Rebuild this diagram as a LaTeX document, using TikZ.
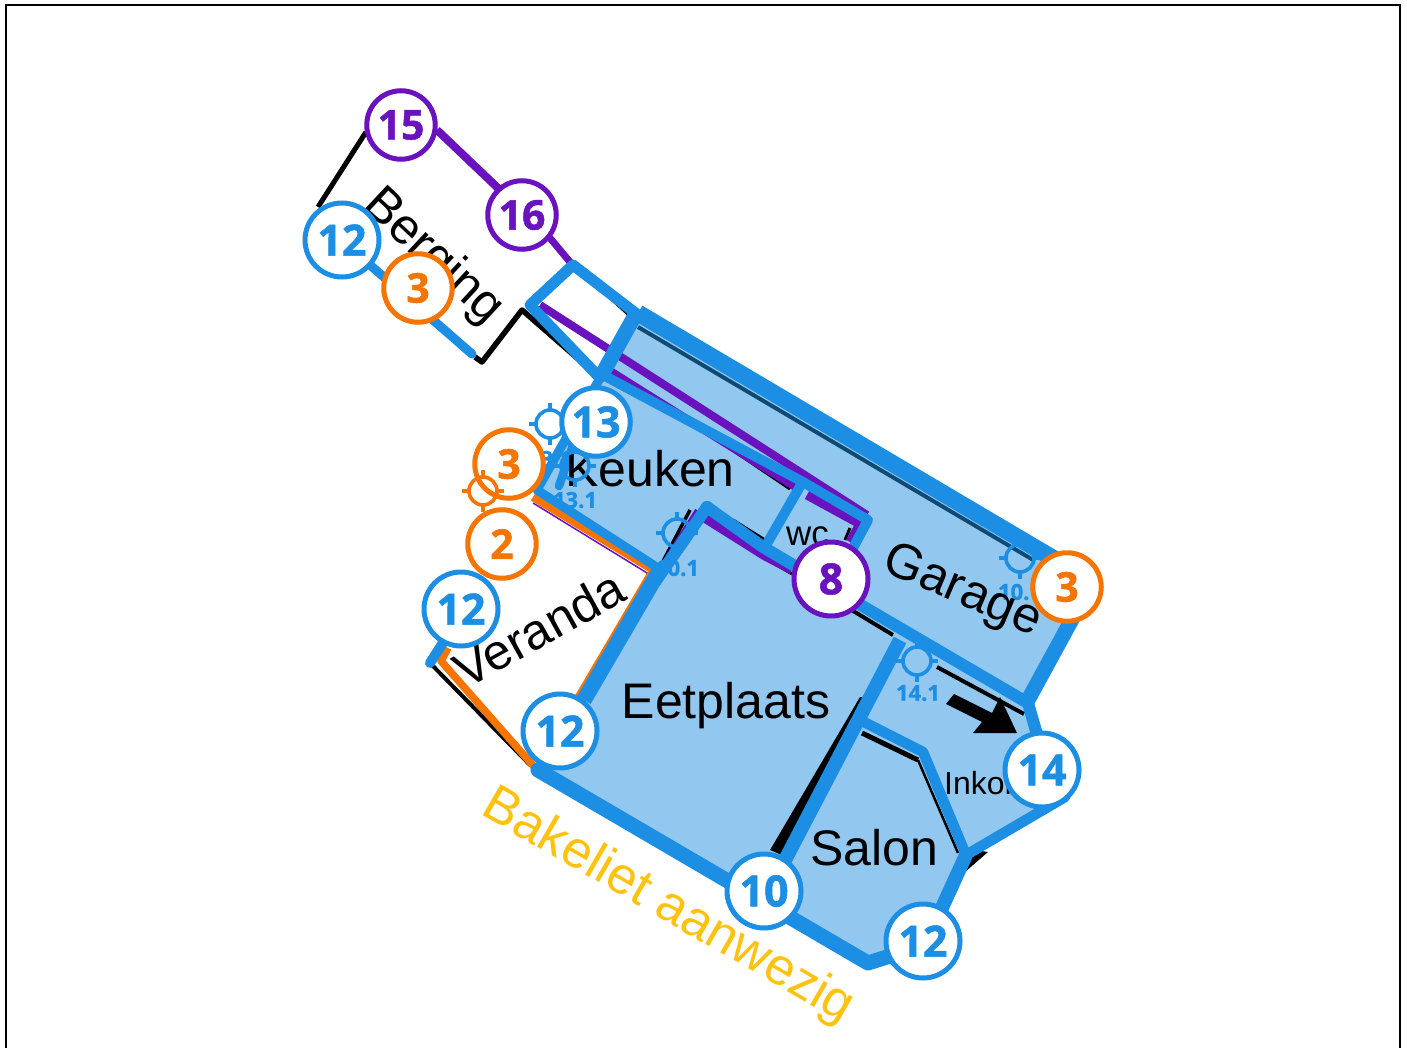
\documentclass[tikz,border=0pt]{standalone}
\usepackage{fontspec}
\setmainfont{Liberation Sans}
\newfontfamily\numfont{Open Sans}[UprightFont=* Bold,RawFeature={embolden=1.2}]
\definecolor{wblue}{HTML}{1C8EE3}
\definecolor{lblue}{HTML}{92C8F0}
\definecolor{wpurple}{HTML}{6A12BE}
\definecolor{worange}{HTML}{F57500}
\definecolor{wyellow}{HTML}{FFC20E}
\definecolor{dblue}{HTML}{0F4A75}
\tikzset{
  x=1pt,y=-1pt,
  bwall/.style={draw=wblue,line join=round,line cap=round},
  pwall/.style={draw=wpurple,line join=round},
  owall/.style={draw=worange,line join=round},
  kwall/.style={draw=black,line join=round},
  big/.style={circle,fill=white,line width=5pt,minimum size=68.5pt,inner sep=0pt,font=\numfont\fontsize{41}{41}\selectfont},
  bigger/.style={big,minimum size=74pt,font=\numfont\fontsize{43}{43}\selectfont},
  blueb/.style={bigger,draw=wblue,text=wblue},
  purpleb/.style={big,draw=wpurple,text=wpurple},
  orangeb/.style={big,draw=worange,text=worange},
  room/.style={font=\fontsize{50}{50}\selectfont,inner sep=0pt},
  smallroom/.style={font=\fontsize{32}{32}\selectfont,inner sep=0pt},
  ptlabel/.style={text=wblue,font=\numfont\fontsize{22}{22}\selectfont,inner sep=0pt},
}
\newcommand{\crossh}[3]{%
  \draw[#1,line width=3.6pt] (#2,#3) circle[radius=14];
  \foreach \a/\b in {-21/0,21/0,0/-21,0/21}{%
    \draw[#1,line width=3.6pt] (#2+0.6*\a,#3+0.6*\b) -- (#2+\a,#3+\b);}%
}
\begin{document}
\begin{tikzpicture}
\useasboundingbox (0,0) rectangle (1407,1048);
\fill[white] (0,0) rectangle (1407,1048);
\draw[black,line width=2.6pt] (6,1048) -- (6,5) -- (1400,5) -- (1400,1048);
% filled rooms
\fill[lblue] (638,315) -- (1088,582) -- (1028,703) -- (1035,745) -- (1067,800) -- (965,855) -- (925,945) -- (868,965) -- (540,770) -- (655,572) -- (537,492) -- (600,378) -- cycle;
% black walls
\draw[kwall,line width=5pt] (318,207) -- (366,132);
\draw[kwall,line width=5.5pt] (475,357) -- (482,362) -- (522,310) -- (600,378);
\draw[kwall,line width=4.5pt] (575,265) -- (630,315);
\draw[dblue,line width=4pt] (638,327) -- (1035,561);
\draw[kwall,line width=4pt] (432,665) -- (530,765);
\draw[kwall,line width=3pt] (663,403) -- (790,489);
\draw[kwall,line width=3.5pt] (537,496) -- (657,570);
\draw[kwall,line width=3.5pt] (690,510) -- (660,567);
\draw[kwall,line width=3pt] (733,520) -- (765,540);
\draw[kwall,line width=3pt] (850,528) -- (845,540);
\draw[kwall,line width=3pt] (760,555) -- (792,574);
\draw[kwall,line width=4pt] (830,597) -- (893,635);
\draw[kwall,line width=4pt] (937,667) -- (1024,714);
\draw[kwall,line width=3pt] (893,645) -- (880,668);
\fill[black] (860,697) -- (864,697) -- (782,855) -- (770,850) -- cycle;
\draw[kwall,line width=5pt] (862,733) -- (918,760);
\draw[kwall,line width=2.5pt] (918,760) -- (958,853);
\fill[black] (965,872) -- (975,850) -- (988,852) -- cycle;
\fill[dblue] (874,955) -- (890,950) -- (885,960) -- (872,964) -- cycle;
% purple walls
\draw[pwall,line width=8pt] (437,130) -- (500,190);
\draw[pwall,line width=7pt] (550,238) -- (570,262);
\draw[pwall,line width=3pt] (570,262) -- (536,303);
\draw[pwall,line width=8pt] (540,305) -- (867,515);
\draw[pwall,line width=8pt] (607,369) -- (800,490);
\draw[pwall,line width=9pt] (807,495) -- (860,524) -- (850,542);
\draw[pwall,line width=4pt] (697,510) -- (667,557);
\draw[pwall,line width=9pt] (703,517) -- (765,556) -- (792,570);
\draw[pwall,line width=1.5pt] (533,503) -- (652,576);
\draw[pwall,line width=1.5pt] (552,458) -- (568,430);
% point labels under walls
\node[ptlabel] (l1) at (550,459) {13.1};
\node[ptlabel] (l2) at (575,500) {13.1};
\node[ptlabel] (l3) at (677,568) {10.1};
\node[ptlabel] (l4) at (1020,592) {10.1};
\node[ptlabel] (l5) at (918,693) {14.1};
% orange walls
\draw[owall,line width=8pt] (533,497) -- (655,571);
\draw[owall,line width=2.5pt] (649,572) -- (575,698);
\draw[owall,line width=7.5pt] (448,648) -- (441,661) -- (537,770);
% blue walls
\draw[bwall,line width=9pt] (370,265) -- (472,354);
\draw[bwall,line width=10pt] (430,663) -- (446,638);
\draw[bwall,line width=11pt] (600,378) -- (530,305) -- (573,265) -- (638,315);
\draw[wblue,line width=17pt] (638,313) -- (1088,579);
\draw[wblue,line width=15pt] (638,310) -- (600,378);
\draw[wblue,line width=15pt] (1088,590) -- (1028,700);
\draw[bwall,line width=9pt] (600,378) -- (537,490) -- (655,566);
\draw[bwall,line width=8.5pt] (572,448) -- (559,486);
\draw[bwall,line width=10pt] (603,375) -- (803,482) -- (868,520) -- (840,572);
\draw[bwall,line width=10pt] (802,483) -- (765,547);
\draw[bwall,line width=12pt] (707,507) -- (763,547) -- (835,590) -- (1028,703) -- (1040,745);
\draw[bwall,line width=12pt] (707,507) -- (655,582);
\draw[wblue,line width=15.5pt] (661,568) -- (584,700);
\draw[wblue,line width=14pt] (900,640) -- (785,860);
\draw[bwall,line width=10.5pt] (864,722) -- (923,752) -- (966,855) -- (1065,797);
\draw[wblue,line width=14pt] (966,855) -- (925,945);
\draw[bwall,line width=15pt] (538,770) -- (868,963) -- (925,945);
% texts
\node[room,rotate=-43] (berging) at (433,257) {Berging};
\node[room] (keuken) at (650,469) {Keuken};
\node[room,rotate=29] (veranda) at (539,629) {Veranda};
\node[room] (eetplaats) at (726,706) {Eetplaats};
\node[room,rotate=-23] (garage) at (962,592) {Garage};
\node[room] (salon) at (874,848) {Salon};
\node[smallroom,anchor=west,font=\fontsize{35}{35}\selectfont] (wc) at (786,536) {wc};
\node[smallroom,anchor=west] (inkom) at (944,783) {Inkom};
\node[room,text=wyellow,rotate=-30,font=\fontsize{52}{52}\selectfont] (bak) at (668,907) {Bakeliet aanwezig};
% black arrow
\fill[black] (954,694) -- (992,713) -- (1000,697) -- (1017,733) -- (973,733) -- (982,722) -- (946,704) -- cycle;
% point markers
\crossh{wblue}{550}{424}
\crossh{wblue}{575}{466}
\crossh{wblue}{677}{533}
\crossh{wblue}{1020}{558}
\crossh{wblue}{917}{661}
% numbered circles
\node[orangeb] (c3b) at (509,464) {3};
\crossh{worange}{483}{491}
\node[purpleb] (c15) at (401,125) {15};
\node[purpleb] (c16) at (522,215) {16};
\node[blueb] (c12a) at (342,240) {12};
\node[orangeb] (c3a) at (418,288) {3};
\node[blueb,minimum size=68.5pt] (c13) at (596,422) {13};
\node[orangeb] (c2) at (502,544) {2};
\node[blueb] (c12b) at (461,609) {12};
\node[blueb] (c12c) at (560,731) {12};
\node[bigger,draw=wpurple,text=wpurple] (c8) at (831,579) {8};
\node[orangeb] (c3c) at (1067,587) {3};
\node[blueb] (c14) at (1042,770) {14};
\node[blueb] (c10) at (764,891) {10};
\node[blueb] (c12d) at (923,941) {12};
\end{tikzpicture}
\end{document}
